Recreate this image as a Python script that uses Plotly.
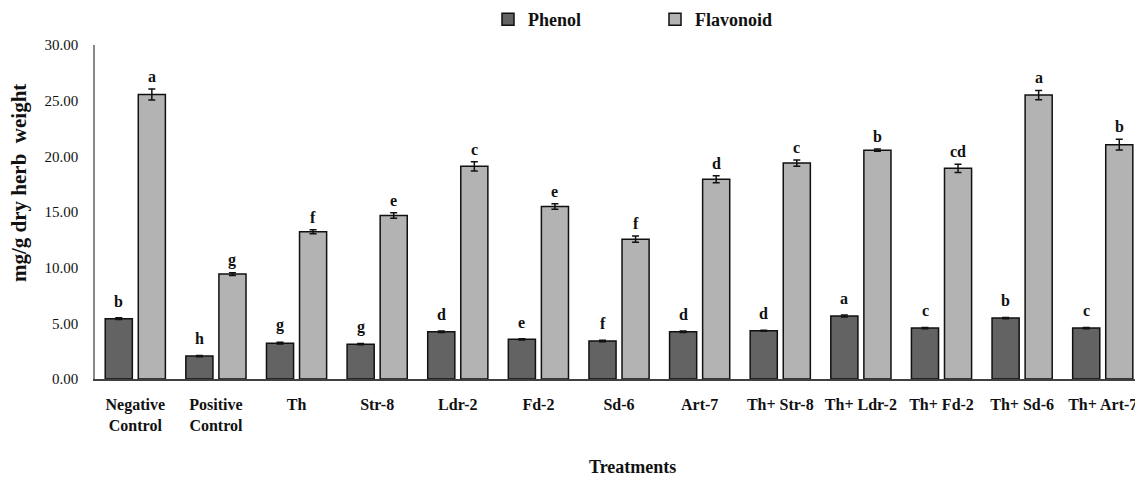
import plotly.graph_objects as go

categories = ["Negative<br>Control", "Positive<br>Control", "Th", "Str-8", "Ldr-2", "Fd-2",
              "Sd-6", "Art-7", "Th+ Str-8", "Th+ Ldr-2", "Th+ Fd-2", "Th+ Sd-6", "Th+ Art-7"]
phenol = [5.42, 2.06, 3.22, 3.13, 4.24, 3.56, 3.41, 4.24, 4.33, 5.66, 4.57, 5.47, 4.57]
phenol_err = [0.08, 0.06, 0.08, 0.05, 0.07, 0.05, 0.06, 0.07, 0.05, 0.08, 0.06, 0.06, 0.06]
flavonoid = [25.55, 9.42, 13.22, 14.68, 19.1, 15.49, 12.56, 17.94, 19.4, 20.55, 18.92, 25.5, 21.05]
flavonoid_err = [0.5, 0.12, 0.18, 0.25, 0.42, 0.25, 0.28, 0.32, 0.28, 0.1, 0.38, 0.42, 0.48]
phenol_letters = ["b", "h", "g", "g", "d", "e", "f", "d", "d", "a", "c", "b", "c"]
flavonoid_letters = ["a", "g", "f", "e", "c", "e", "f", "d", "c", "b", "cd", "a", "b"]
y_ticks = [0, 5, 10, 15, 20, 25, 30]

FONT = "Liberation Serif"
W, H = 1135, 478
L, R, T, B = 95, 0, 45, 99

fig = go.Figure()
fig.add_trace(go.Bar(
    name="Phenol", x=categories, y=phenol,
    marker=dict(color="#636363", line=dict(color="#111111", width=1.5)),
    error_y=dict(type="data", array=phenol_err, color="#111111", thickness=1.5, width=3.5),
))
fig.add_trace(go.Bar(
    name="Flavonoid", x=categories, y=flavonoid,
    marker=dict(color="#b3b3b3", line=dict(color="#111111", width=1.5)),
    error_y=dict(type="data", array=flavonoid_err, color="#111111", thickness=1.5, width=3.5),
))

annotations = []
for c, v, e, t in zip(categories, phenol, phenol_err, phenol_letters):
    annotations.append(dict(x=c, y=v + e, xref="x", yref="y", text="<b>" + t + "</b>",
                            showarrow=False, yanchor="bottom", xshift=-16.5, yshift=6,
                            font=dict(family=FONT, size=16, color="#111111")))
for c, v, e, t in zip(categories, flavonoid, flavonoid_err, flavonoid_letters):
    annotations.append(dict(x=c, y=v + e, xref="x", yref="y", text="<b>" + t + "</b>",
                            showarrow=False, yanchor="bottom", xshift=16.5, yshift=2,
                            font=dict(family=FONT, size=16, color="#111111")))

# axis titles
annotations.append(dict(text="<b>Treatments</b>", xref="paper", yref="paper",
                        x=(632 - L) / (W - L - R), y=-(467 - (H - B)) / (H - T - B),
                        xanchor="center", yanchor="middle", showarrow=False,
                        font=dict(family=FONT, size=18, color="#111111")))
annotations.append(dict(text="<b>mg/g dry herb  weight</b>", xref="paper", yref="paper",
                        x=-(L - 19) / (W - L - R), y=((H - B) - 183) / (H - T - B),
                        xanchor="center", yanchor="middle", showarrow=False, textangle=-90,
                        font=dict(family=FONT, size=21, color="#111111")))

fig.update_layout(
    width=W, height=H,
    margin=dict(l=L, r=R, t=T, b=B, pad=0, autoexpand=False),
    paper_bgcolor="white", plot_bgcolor="white",
    barmode="group", bargap=0.18, bargroupgap=0.18,
    font=dict(family=FONT, size=15, color="#111111"),
    showlegend=True,
    legend=dict(orientation="h", xref="container", yref="container",
                x=488 / W, xanchor="left", y=1 - 1 / H, yanchor="top",
                entrywidth=122, entrywidthmode="pixels",
                font=dict(family=FONT, size=18, color="#111111", weight="bold"),
                bgcolor="rgba(0,0,0,0)", itemclick=False),
    annotations=annotations,
)
fig.update_xaxes(
    range=[-0.5, 12.4], showline=True, linecolor="#404040", linewidth=2,
    showgrid=False, ticks="", ticklabelstandoff=10,
    tickfont=dict(family=FONT, size=16, color="#111111", weight="bold"),
)
fig.update_yaxes(
    range=[0, 30], tickvals=y_ticks, tickformat=".2f", showline=True,
    linecolor="#888888", linewidth=1.5, showgrid=False, zeroline=False,
    ticks="", ticklabelstandoff=12,
    tickfont=dict(family=FONT, size=15, color="#111111"),
)

fig.write_html("out.html", config={"displayModeBar": False},
               post_script="document.body.style.margin='0px';document.body.style.overflow='hidden';")
